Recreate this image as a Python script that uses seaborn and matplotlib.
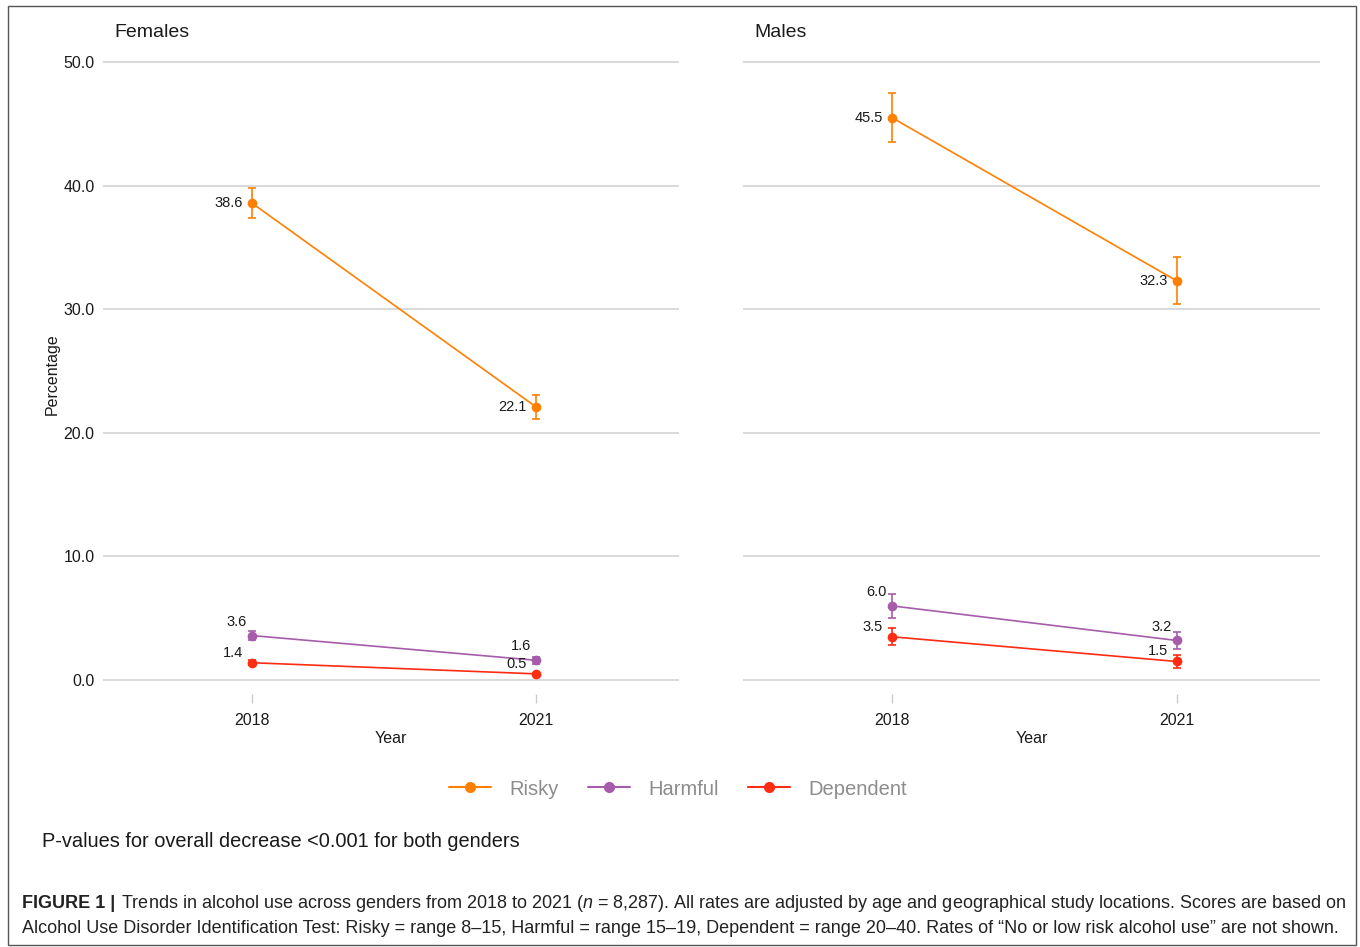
import numpy as np
import pandas as pd
import matplotlib.pyplot as plt
from matplotlib.lines import Line2D
from matplotlib.patches import Rectangle
import seaborn as sns

# values
years = [2018, 2021]
categories = ['Risky', 'Harmful', 'Dependent']
genders = ['Females', 'Males']

female_risky = [38.6, 22.1]
female_harmful = [3.6, 1.6]
female_dependent = [1.4, 0.5]
male_risky = [45.5, 32.3]
male_harmful = [6.0, 3.2]
male_dependent = [3.5, 1.5]

# half-widths of the error bars (estimated)
female_risky_err = [1.2, 1.0]
female_harmful_err = [0.4, 0.3]
female_dependent_err = [0.2, 0.1]
male_risky_err = [2.0, 1.9]
male_harmful_err = [1.0, 0.7]
male_dependent_err = [0.7, 0.5]

y_ticks = [0, 10, 20, 30, 40, 50]

series = {
    ('Females', 'Risky'): (female_risky, female_risky_err),
    ('Females', 'Harmful'): (female_harmful, female_harmful_err),
    ('Females', 'Dependent'): (female_dependent, female_dependent_err),
    ('Males', 'Risky'): (male_risky, male_risky_err),
    ('Males', 'Harmful'): (male_harmful, male_harmful_err),
    ('Males', 'Dependent'): (male_dependent, male_dependent_err),
}

rows = []
for (g, c), (vals, errs) in series.items():
    for yr, v, e in zip(years, vals, errs):
        rows.append({'Gender': g, 'Category': c, 'Year': yr, 'Percentage': v, 'Err': e})
df = pd.DataFrame(rows)

palette = {'Risky': '#FF8000', 'Harmful': '#A65CAA', 'Dependent': '#FF2B12'}
# label offsets (points) relative to each point
label_offset = {'Risky': (-6.5, 0), 'Harmful': (-3.6, 10), 'Dependent': (-6.5, 7.2)}

sns.set_style('white')
plt.rcParams['font.family'] = ['Liberation Sans', 'DejaVu Sans']
plt.rcParams['mathtext.fontset'] = 'custom'
plt.rcParams['mathtext.it'] = 'Liberation Sans:italic'
plt.rcParams['mathtext.rm'] = 'Liberation Sans'

W, H = 1360, 947
fig = plt.figure(figsize=(W / 100, H / 100), dpi=100)

panel_px = {'Females': (103, 679), 'Males': (743, 1320)}
top_px, bottom_px = 55, 694

axes = {}
for g in genders:
    l, r = panel_px[g]
    ax = fig.add_axes([l / W, 1 - bottom_px / H, (r - l) / W, (bottom_px - top_px) / H])
    axes[g] = ax
    sub = df[df.Gender == g]
    sns.lineplot(data=sub, x='Year', y='Percentage', hue='Category', hue_order=categories,
                 palette=palette, marker='o', markersize=7, markeredgewidth=0,
                 linewidth=1.2, ax=ax, legend=False, zorder=3)
    for c in categories:
        s = sub[sub.Category == c]
        ax.errorbar(s.Year, s.Percentage, yerr=s.Err, fmt='none', ecolor=palette[c],
                    elinewidth=1.2, capsize=2.6, capthick=1.2, zorder=3)
        for yr, v in zip(s.Year, s.Percentage):
            ax.annotate(f'{v:.1f}', xy=(yr, v), xytext=label_offset[c],
                        textcoords='offset points', ha='right', va='center',
                        fontsize=10.5, color='#1a1a1a', zorder=4)

    ax.set_xlim(2016.43, 2022.51)
    ax.set_ylim(-1.13, 50.57)
    ax.set_xticks(years)
    ax.set_xticklabels([str(y) for y in years])
    ax.set_yticks(y_ticks)
    ax.set_yticklabels([f'{t:.1f}' for t in y_ticks])
    ax.yaxis.grid(True, color='#cfcfcf', linewidth=1.1)
    ax.xaxis.grid(False)
    for sp in ax.spines.values():
        sp.set_visible(False)
    ax.tick_params(axis='x', length=6.5, width=1, color='#cccccc', labelsize=11.5,
                   labelcolor='#1a1a1a', pad=7, direction='out', bottom=True)
    ax.tick_params(axis='y', length=0, labelsize=11.5, labelcolor='#1a1a1a', pad=6)
    ax.set_xlabel('Year', fontsize=11.5, color='#1a1a1a', labelpad=2)
    ax.annotate(g, xy=(0, 1), xycoords='axes fraction', xytext=(8.5, 16),
                textcoords='offset points', ha='left', va='center', fontsize=14, color='#1a1a1a')

axes['Females'].set_ylabel('Percentage', fontsize=11.5, color='#1a1a1a', labelpad=2.5)
axes['Males'].set_ylabel('')
axes['Males'].set_yticklabels([])

handles = [Line2D([0], [0], color=palette[c], marker='o', markersize=8, markeredgewidth=0,
                  linewidth=1.5) for c in categories]
fig.legend(handles, categories, loc='center', bbox_to_anchor=(678 / W, 1 - 789 / H),
           ncol=3, frameon=False, fontsize=14.5, labelcolor='#8c8c8c',
           handlelength=2.1, handletextpad=0.9, columnspacing=1.45)

fig.text(42 / W, 1 - 841 / H, 'P-values for overall decrease <0.001 for both genders',
         fontsize=14.4, va='center', ha='left', color='#1a1a1a')

cap_kw = dict(fontsize=13.0, va='center', ha='left', color='#222222', family=['Liberation Sans', 'DejaVu Sans'])
fig.text(22 / W, 1 - 903 / H, 'FIGURE 1 |', fontweight='bold', **cap_kw)
fig.text(121 / W, 1 - 903 / H,
         'Trends in alcohol use across genders from 2018 to 2021 ($n$ = 8,287). All rates are adjusted by age '
         'and geographical study locations. Scores are based on', **cap_kw)
fig.text(22 / W, 1 - 928 / H,
         'Alcohol Use Disorder Identification Test: Risky = range 8\u201315, Harmful = range 15\u201319, '
         'Dependent = range 20\u201340. Rates of \u201cNo or low risk alcohol use\u201d are not shown.', **cap_kw)

fig.add_artist(Rectangle((8 / W, 1 - 945 / H), (1356 - 8) / W, (945 - 6) / H,
                         transform=fig.transFigure, fill=False, edgecolor='#555555', linewidth=1))

fig.savefig('out.png', dpi=100)
